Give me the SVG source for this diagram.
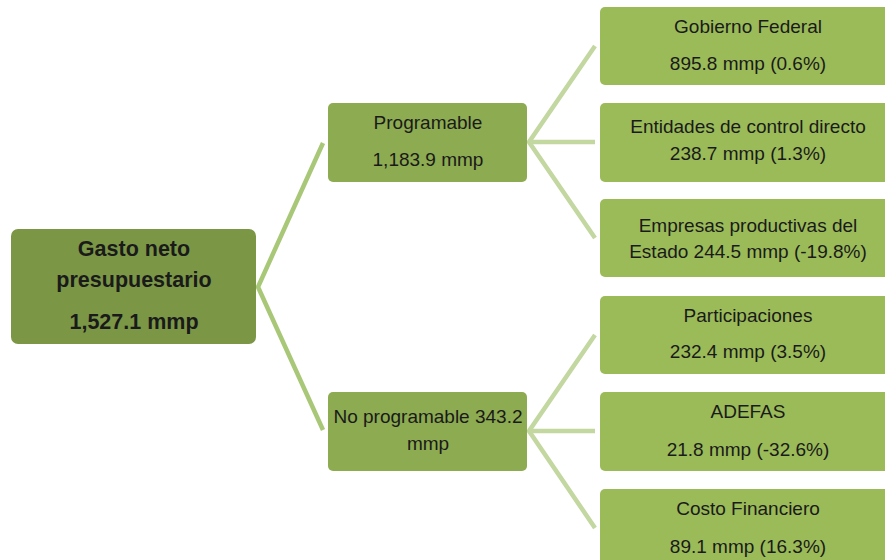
<svg xmlns="http://www.w3.org/2000/svg" width="885" height="560" viewBox="0 0 885 560">
<style>
.t{font-family:"Liberation Sans",Arial,sans-serif;fill:#1a1a1a;text-anchor:middle}
.root rect{fill:#7b9746}
.mid rect{fill:#8dab50}
.leaf rect{fill:#9bbb59}
.rt{font-size:21.5px;font-weight:bold}
.mt{font-size:19px}
.lt{font-size:19px}
.c1{stroke:#a8c878;stroke-width:4.5;fill:none;stroke-linejoin:miter}
.c2{stroke:#c3d7a0;stroke-width:4.5;fill:none;stroke-linejoin:miter}
</style>
<rect width="885" height="560" fill="#ffffff"/>
<g id="connectors">
<polyline class="c1" points="323,143 258,287 323,430"/>
<polyline class="c2" points="595,46 529,142 595,238"/>
<line class="c2" x1="529" y1="142" x2="595" y2="142"/>
<polyline class="c2" points="595,335 529,431 595,528"/>
<line class="c2" x1="529" y1="431" x2="595" y2="431"/>
</g>
<g id="root" class="root">
<rect x="11" y="229" width="245" height="115" rx="7"/>
<text class="t rt" x="134" y="256">Gasto neto</text>
<text class="t rt" x="134" y="287">presupuestario</text>
<text class="t rt" x="134" y="329">1,527.1 mmp</text>
</g>
<g id="programable" class="mid">
<rect x="328" y="103" width="199" height="79" rx="5"/>
<text class="t mt" x="428" y="129">Programable</text>
<text class="t mt" x="428" y="166">1,183.9 mmp</text>
</g>
<g id="no-programable" class="mid">
<rect x="328" y="392" width="199" height="79" rx="5"/>
<text class="t mt" x="428" y="423">No programable 343.2</text>
<text class="t mt" x="428" y="450">mmp</text>
</g>
<g id="gobierno-federal" class="leaf">
<rect x="600" y="7" width="296" height="78" rx="5"/>
<text class="t lt" x="748" y="33">Gobierno Federal</text>
<text class="t lt" x="748" y="70">895.8 mmp (0.6%)</text>
</g>
<g id="entidades" class="leaf">
<rect x="600" y="103" width="296" height="79" rx="5"/>
<text class="t lt" x="748" y="133">Entidades de control directo</text>
<text class="t lt" x="748" y="160">238.7 mmp (1.3%)</text>
</g>
<g id="empresas" class="leaf">
<rect x="600" y="199" width="296" height="78" rx="5"/>
<text class="t lt" x="748" y="232">Empresas productivas del</text>
<text class="t lt" x="748" y="258">Estado 244.5 mmp (-19.8%)</text>
</g>
<g id="participaciones" class="leaf">
<rect x="600" y="296" width="296" height="78" rx="5"/>
<text class="t lt" x="748" y="322">Participaciones</text>
<text class="t lt" x="748" y="358">232.4 mmp (3.5%)</text>
</g>
<g id="adefas" class="leaf">
<rect x="600" y="392" width="296" height="79" rx="5"/>
<text class="t lt" x="748" y="418">ADEFAS</text>
<text class="t lt" x="748" y="456">21.8 mmp (-32.6%)</text>
</g>
<g id="costo-financiero" class="leaf">
<rect x="600" y="489" width="296" height="80" rx="5"/>
<text class="t lt" x="748" y="515">Costo Financiero</text>
<text class="t lt" x="748" y="553">89.1 mmp (16.3%)</text>
</g>
</svg>
